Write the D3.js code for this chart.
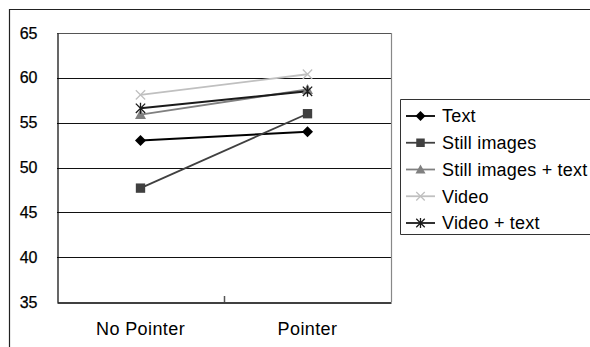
<!DOCTYPE html>
<html><head><meta charset="utf-8">
<script src="https://cdn.jsdelivr.net/npm/d3@7"></script>
<style>body{margin:0;background:#fff}svg{display:block}text{font-family:"Liberation Sans",Arial,sans-serif}</style>
</head><body><div id="chart"></div>
<script>
const categories = ["No Pointer", "Pointer"];
const seriesNames = ["Text", "Still images", "Still images + text", "Video", "Video + text"];
const textValues = [53.0, 54.0];
const stillValues = [47.7, 56.0];
const stillTextValues = [55.9, 58.7];
const videoValues = [58.1, 60.4];
const videoTextValues = [56.6, 58.5];
const yTicks = [35, 40, 45, 50, 55, 60, 65];

const series = [
  {name: seriesNames[0], values: textValues, color: "#000000", marker: "diamond"},
  {name: seriesNames[1], values: stillValues, color: "#404040", marker: "square"},
  {name: seriesNames[2], values: stillTextValues, color: "#808080", marker: "triangle"},
  {name: seriesNames[3], values: videoValues, color: "#c0c0c0", marker: "x"},
  {name: seriesNames[4], values: videoTextValues, color: "#1a1a1a", marker: "star"}
];

const W = 590, H = 347;
const svg = d3.select("#chart").append("svg").attr("width", W).attr("height", H);
const m = {left: 57, right: 391, top: 33, bottom: 302};

// outer frame
svg.append("path").attr("d", `M9.5,${H+2}V9.5H${W+2}`).attr("fill", "none").attr("stroke", "#222").attr("stroke-width", 1.2);

const x = d3.scaleBand().domain(categories).range([m.left, m.right]);
const y = d3.scaleLinear().domain([35, 65]).range([m.bottom, m.top]);

// gridlines
svg.append("g").selectAll("line").data(yTicks.slice(1)).join("line")
  .attr("x1", m.left).attr("x2", m.right)
  .attr("y1", d => Math.round(y(d)) + 0.5).attr("y2", d => Math.round(y(d)) + 0.5)
  .attr("stroke", "#111").attr("stroke-width", 1);

// plot border right/top
svg.append("line").attr("x1", m.right + 0.5).attr("x2", m.right + 0.5).attr("y1", m.top).attr("y2", m.bottom)
  .attr("stroke", "#888").attr("stroke-width", 1.2);
svg.append("line").attr("x1", m.left).attr("x2", m.right).attr("y1", m.top + 0.5).attr("y2", m.top + 0.5)
  .attr("stroke", "#555").attr("stroke-width", 1);

// y axis
const yAxis = d3.axisLeft(y).tickValues(yTicks).tickSize(0).tickPadding(20);
const gy = svg.append("g").attr("transform", `translate(${m.left + 0.5},0)`).call(yAxis);
gy.select(".domain").attr("stroke", "#000").attr("stroke-width", 1.2);
gy.selectAll("text").attr("font-size", 16).attr("fill", "#000").attr("stroke", "#000").attr("stroke-width", 0.25).attr("text-anchor", "end");

// x axis
const xAxis = d3.axisBottom(x).tickSize(0).tickPadding(20);
const gx = svg.append("g").attr("transform", `translate(0,${m.bottom + 0.5})`).call(xAxis);
gx.select(".domain").attr("stroke", "#000").attr("stroke-width", 1.6);
gx.selectAll("text").attr("font-size", 18).attr("fill", "#000").attr("letter-spacing", 0.4);
// middle tick mark (category boundary)
svg.append("line").attr("x1", x(categories[1]) + 0.5).attr("x2", x(categories[1]) + 0.5)
  .attr("y1", m.bottom - 6).attr("y2", m.bottom).attr("stroke", "#555").attr("stroke-width", 1.5);

const cx = d => x(d) + x.bandwidth() / 2;

function drawMarker(g, type, color, s) {
  if (type === "diamond") {
    g.append("path").attr("d", `M0,${-s}L${s},0L0,${s}L${-s},0Z`).attr("fill", color);
  } else if (type === "square") {
    g.append("rect").attr("x", -s*0.85).attr("y", -s*0.85).attr("width", s*1.7).attr("height", s*1.7).attr("fill", color);
  } else if (type === "triangle") {
    g.append("path").attr("d", `M0,${-s}L${s},${s*0.8}L${-s},${s*0.8}Z`).attr("fill", color);
  } else if (type === "x") {
    const r = s*0.85;
    g.append("path").attr("d", `M${-r},${-r}L${r},${r}M${-r},${r}L${r},${-r}`).attr("stroke", color).attr("stroke-width", 1.3);
  } else if (type === "star") {
    const r = s*0.85;
    g.append("path").attr("d", `M${-r},${-r}L${r},${r}M${-r},${r}L${r},${-r}M0,${-s}L0,${s}`).attr("stroke", color).attr("stroke-width", 1.3);
  }
}

const line = d3.line().x((d, i) => cx(categories[i])).y(d => y(d));
series.forEach(s => {
  svg.append("path").datum(s.values).attr("d", line).attr("fill", "none")
    .attr("stroke", s.color).attr("stroke-width", s.marker === "star" || s.marker === "diamond" ? 2 : 1.8);
});
series.forEach(s => {
  s.values.forEach((v, i) => {
    const g = svg.append("g").attr("transform", `translate(${cx(categories[i])},${y(v)})`);
    drawMarker(g, s.marker, s.color, 5.5);
  });
});

// legend
const lg = svg.append("g");
lg.append("path").attr("d", `M${W+2},99.5H400.5V234.5H${W+2}`).attr("fill", "#fff").attr("stroke", "#333").attr("stroke-width", 1);
const ly = d3.scalePoint().domain(seriesNames).range([116, 223]);
series.forEach(s => {
  const yy = ly(s.name);
  lg.append("line").attr("x1", 406).attr("x2", 435).attr("y1", yy).attr("y2", yy)
    .attr("stroke", s.color).attr("stroke-width", 1.8);
  const g = lg.append("g").attr("transform", `translate(420.5,${yy})`);
  drawMarker(g, s.marker, s.color, 5);
  lg.append("text").attr("x", 442).attr("y", yy).attr("dy", "0.36em").attr("font-size", 18).attr("letter-spacing", 0.2).text(s.name);
});
</script></body></html>
